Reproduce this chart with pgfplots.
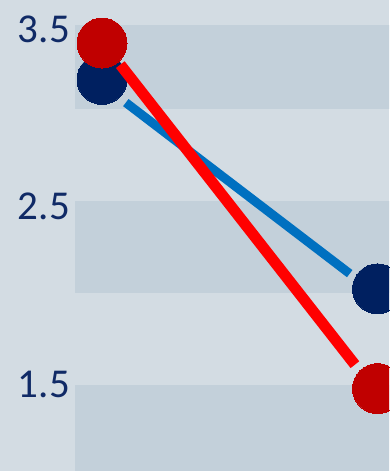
\documentclass[border=0pt]{standalone}
\usepackage{pgfplots}
\pgfplotsset{compat=1.18}
\usepackage{fontspec}
\setmainfont{Carlito}

\definecolor{bgc}{RGB}{211,220,227}
\definecolor{bandc}{RGB}{195,208,218}
\definecolor{navy}{RGB}{0,32,96}
\definecolor{lineblue}{RGB}{0,112,192}
\definecolor{darkred}{RGB}{192,0,0}
\definecolor{labelc}{RGB}{16,42,102}

\begin{document}
\begin{tikzpicture}
% page background
\fill[bgc] (0,0) rectangle (389pt,471pt);
\begin{axis}[
  at={(75pt,0pt)}, anchor=south west,
  scale only axis, width=314pt, height=471pt,
  xmin=-0.098, xmax=1.0417,
  ymin=1.0099, ymax=3.6634,
  axis line style={draw=none},
  tick style={draw=none},
  xtick=\empty,
  ytick={1.5,2.5,3.5},
  yticklabels={1.5,2.5,3.5},
  yticklabel style={font=\fontsize{41}{41}\selectfont, text=labelc,
    inner sep=0pt, anchor=east, xshift=-5pt},
  clip marker paths=true,
]
% alternating horizontal bands
\fill[bandc] (axis cs:-0.2,3.0493) rectangle (axis cs:1.2,3.5225);
\fill[bandc] (axis cs:-0.2,2.0127) rectangle (axis cs:1.2,2.531);
\fill[bandc] (axis cs:-0.2,0.9) rectangle (axis cs:1.2,1.4944);

% first series
\addplot[lineblue, line width=9pt, shorten <=30pt, shorten >=35pt]
  coordinates {(0,3.188) (1,2.002)};
\addplot[navy, only marks, mark=*, mark size=25pt,
  mark options={fill=navy, draw=navy, line width=0pt}]
  coordinates {(0,3.216) (1,2.036)};

% second series
\addplot[red, line width=11pt, shorten <=29.7pt, shorten >=36.7pt]
  coordinates {(0,3.431) (1,1.446)};
\addplot[darkred, only marks, mark=*, mark size=25pt,
  mark options={fill=darkred, draw=darkred, line width=0pt}]
  coordinates {(0,3.421) (1,1.474)};
\end{axis}
\end{tikzpicture}
\end{document}
